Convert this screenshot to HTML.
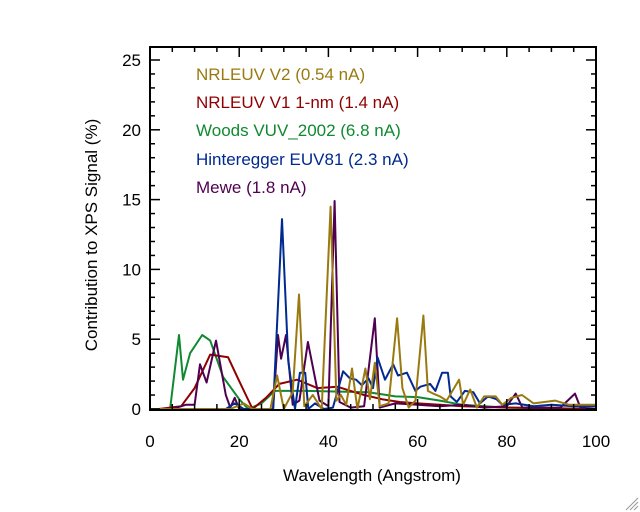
<!DOCTYPE html>
<html><head><meta charset="utf-8"><style>
body{margin:0;background:#fff;}
svg{display:block;font-family:"Liberation Sans",sans-serif;}
</style></head><body>
<svg id="chart" width="640" height="512">
<g id="marks"></g>
<g id="axes"></g>
<text x="372" y="481" font-size="17" text-anchor="middle">Wavelength (Angstrom)</text>
<text transform="translate(97,235) rotate(-90)" font-size="17" text-anchor="middle">Contribution to XPS Signal (%)</text>
<g font-size="17">
<text x="196" y="80" fill="#9a7a10">NRLEUV V2 (0.54 nA)</text>
<text x="196" y="108" fill="#900000">NRLEUV V1 1-nm (1.4 nA)</text>
<text x="196" y="136" fill="#108a30">Woods VUV_2002 (6.8 nA)</text>
<text x="196" y="165" fill="#002a90">Hinteregger EUV81 (2.3 nA)</text>
<text x="196" y="193" fill="#500050">Mewe (1.8 nA)</text>
</g>
<g stroke="#999" stroke-width="1">
<line x1="626" y1="510" x2="638" y2="498"/><line x1="630" y1="510" x2="638" y2="502"/><line x1="634" y1="510" x2="638" y2="506"/>
</g>
</svg>
<script>
const xTicks=[0,20,40,60,80,100];
const yTicks=[0,5,10,15,20,25];
const wavelengthWoods=[0,4.5,6.5,7.4,9,11.7,13.5,16.4,20,22,25,28,35,49,55,60,65,70,75,80,90,100];
const valuesWoods=[0,0,5.3,2.1,4.0,5.3,4.9,2.3,0.7,0,0.4,1.3,1.3,1.2,0.9,0.85,0.6,0.3,0.2,0.1,0.05,0];
const wavelengthV1=[0,2,7,10,13.5,17.5,20,23,26,29,33,37.5,42,45,48,52,56,60,65,70,75,80,90,100];
const valuesV1=[0,0,0.2,1.5,3.9,3.7,2.0,0,0.8,1.8,2.1,1.5,1.6,1.3,1.0,0.7,0.5,0.4,0.3,0.2,0.15,0.1,0.05,0];
const wavelengthMewe=[0,5,8,10,11.2,12.7,14.8,17,18,19,20,25,27.6,28.7,29.4,30.5,32,33.5,35.4,38,40,41.4,42.5,45,48,50.4,51.5,55,60,65,70,75,80,82,83.5,88,92,95.3,96.5,100];
const valuesMewe=[0,0,0.3,0.3,3.2,1.9,4.9,1.0,0.1,0.8,0,0,0,5.3,3.6,5.3,0.3,0.6,4.8,0.6,0.2,14.9,0.5,0.1,0.2,6.5,0.1,0.4,0.3,0.2,0.3,0.1,0.2,1.1,0.1,0.1,0.1,1.1,0.1,0];
const wavelengthHint=[0,17,19,21,27.6,29.6,31,32.5,33.6,34.8,35.5,37,39,41,43.3,44.8,46.2,47.5,49,50,51,52.7,54.5,55.6,57.6,59.5,60.6,62.8,64,65.5,66.8,67.4,68.8,70.6,72.5,74,75.8,77.7,79,82,86,90,95,100];
const valuesHint=[0,0,0.4,0,0,13.6,3.4,0,2.6,2.6,0,0.4,0,0.1,2.7,2.2,2.1,1.7,2.2,1.5,3.7,2.1,3.2,2.4,2.6,1.3,1.6,1.8,1.3,2.6,2.6,0.9,0.5,1.3,1.2,0.4,0.9,0.7,0.3,0.4,0.2,0.3,0.2,0.2];
const wavelengthV2=[0,18,21,23,27,28.5,30,32,33.4,34.6,36.5,38.5,40.5,41.8,42.8,44,45.3,46.5,48.3,49.3,50.4,51.5,53.5,55.4,56.6,58,59.5,61.3,62.3,63.5,65,66.5,69.3,70.2,71.8,73.3,74.9,77.5,79,81,83.4,86,90.8,94,100];
const valuesV2=[0,0,0.4,0,0,2.4,0,1.2,8.2,0.2,1.0,0,14.5,0.6,1.0,0.3,2.9,0,2.9,0.7,3.3,0.2,0.4,6.5,1.5,0.1,0.6,6.7,1.3,1.1,0.9,0.6,2.1,0.3,1.4,0.1,0.9,0.9,0.3,0.8,1.0,0.4,0.6,0.3,0.3];

const NS="http://www.w3.org/2000/svg";
const X0=150,X1=596,Y0=409,PXU=13.96,TOP=47;
function sx(v){return X0+(v/100)*(X1-X0);}
function sy(v){return Y0-v*PXU;}
function mk(t,a,p){const e=document.createElementNS(NS,t);for(const k in a)e.setAttribute(k,a[k]);p.appendChild(e);return e;}
const marks=document.getElementById('marks');
const series=[
 ['series-woods',wavelengthWoods,valuesWoods,'#108a30'],
 ['series-nrleuv-v1',wavelengthV1,valuesV1,'#900000'],
 ['series-mewe',wavelengthMewe,valuesMewe,'#500050'],
 ['series-hinteregger',wavelengthHint,valuesHint,'#002a90'],
 ['series-nrleuv-v2',wavelengthV2,valuesV2,'#9a7a10']
];
series.forEach(s=>{
 const pts=s[1].map((x,i)=>sx(x).toFixed(1)+','+sy(s[2][i]).toFixed(1)).join(' ');
 const pl=mk('polyline',{points:pts,fill:'none',stroke:s[3],'stroke-width':2,'stroke-linejoin':'round'},marks);
 
 
});
const axes=document.getElementById('axes');
const fr=mk('rect',{x:X0,y:TOP,width:X1-X0,height:Y0+1-TOP,fill:'none',stroke:'#000','stroke-width':2},axes);


for(let v=0;v<=100;v+=5){
 const maj=v%20===0,L=maj?10:5,x=sx(v);
 mk('line',{x1:x,y1:Y0,x2:x,y2:Y0-L,stroke:'#000','stroke-width':1.5},axes);
 mk('line',{x1:x,y1:TOP,x2:x,y2:TOP+L,stroke:'#000','stroke-width':1.5},axes);
}
for(let v=0;v<=25;v+=1){
 const maj=v%5===0,L=maj?10:5,y=sy(v);
 mk('line',{x1:X0,y1:y,x2:X0+L,y2:y,stroke:'#000','stroke-width':1.5},axes);
 mk('line',{x1:X1,y1:y,x2:X1-L,y2:y,stroke:'#000','stroke-width':1.5},axes);
}
xTicks.forEach(v=>{
 const t=mk('text',{x:sx(v),y:447,'font-size':17,'text-anchor':'middle'},axes);
 t.textContent=v;
 
 
});
yTicks.forEach(v=>{
 const t=mk('text',{x:141,y:sy(v)+6,'font-size':17,'text-anchor':'end'},axes);
 t.textContent=v;
 
 
});
</script>
</body></html>
